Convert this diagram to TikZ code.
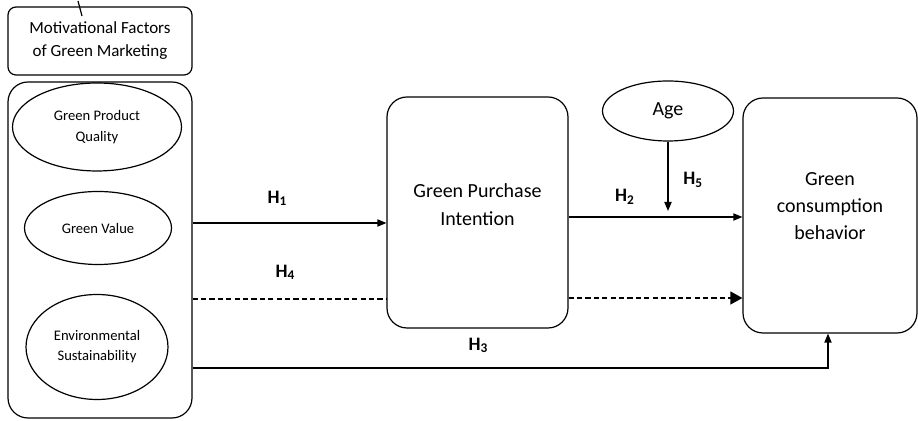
\documentclass[tikz,border=0pt]{standalone}
\usepackage{fontspec}
\setmainfont{Carlito}
\usepackage{tikz}
\usetikzlibrary{shapes,arrows.meta,positioning,calc}

\begin{document}
\begin{tikzpicture}[
    x=0.5pt, y=-0.5pt,
    line width=0.6pt,
    box/.style={rectangle, draw, rounded corners=10pt, align=center, font=\fontsize{10}{13.8}\selectfont},
    factor/.style={ellipse, draw, inner sep=0pt, align=center, font=\fontsize{7.3}{10.5}\selectfont},
    hyp/.style={font=\fontsize{9.5}{11}\selectfont\bfseries},
    arrow/.style={-{Triangle[length=4.5pt, width=3.6pt]}},
    bigarrow/.style={-{Triangle[length=6pt, width=6.5pt]}},
    dashline/.style={dash pattern=on 2.6pt off 1.6pt}
]
\useasboundingbox (0,0) rectangle (918,421);

\node[box, rounded corners=4pt, minimum width=92pt, minimum height=34pt, font=\fontsize{8.5}{11.5}\selectfont] (motiv) at (100,41) {Motivational Factors\\of Green Marketing};
\node[box, minimum width=92pt, minimum height=168pt] (group) at (100,250) {};

\node[factor, minimum width=84.5pt, minimum height=44pt] (gpq) at (97,127) {Green Product\\Quality};
\node[factor, minimum width=73.5pt, minimum height=36.5pt] (gv) at (98,228) {Green Value};
\node[factor, minimum width=71pt, minimum height=52.5pt, font=\fontsize{7.3}{10}\selectfont] (es) at (97,347) {Environmental\\Sustainability};

\node[box, minimum width=90.5pt, minimum height=115.5pt] (gpi) at (477.5,212.5) {Green Purchase\\Intention\\[-6pt]};
\node[box, minimum width=87pt, minimum height=117.5pt, font=\fontsize{10}{13.5}\selectfont] (cb) at (830,215.5) {Green\\consumption\\behavior\\[-4pt]};
\node[ellipse, draw, minimum width=65.5pt, minimum height=30pt, font=\fontsize{10}{12}\selectfont] (age) at (668,111) {Age};

\coordinate (tickA) at (78,1);
\coordinate (tickB) at (82,16);
\draw (tickA) -- (tickB);

% hypotheses
\draw[arrow] (group.east |- 0,223) -- node[hyp, above=5pt, xshift=-6pt] {H\textsubscript{1}} (gpi.west |- 0,223);
\draw[arrow] (gpi.east |- 0,217) -- (cb.west |- 0,217);
\node[hyp] (h2) at (625,197) {H\textsubscript{2}};
\draw[arrow] (group.east |- 0,368) -| node[hyp, pos=0.225, above=4pt] {H\textsubscript{3}} (cb.south -| 828,0);
\draw[dashline] (group.east |- 0,299) -- node[hyp, above=6pt, xshift=-2pt] {H\textsubscript{4}} (gpi.west |- 0,299);
\draw[dashline, bigarrow] (gpi.east |- 0,298) -- (cb.west |- 0,298);

\coordinate (mod) at (668,211);
\draw[arrow] (age.south) -- node[hyp, right=4pt, pos=0.55] {H\textsubscript{5}} (mod);

\end{tikzpicture}
\end{document}
